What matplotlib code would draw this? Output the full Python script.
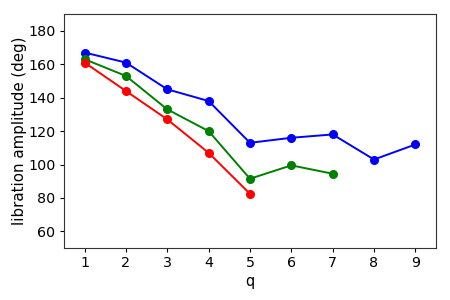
import matplotlib
matplotlib.use("Agg")
import matplotlib.pyplot as plt

q_blue = [1, 2, 3, 4, 5, 6, 7, 8, 9]
amp_blue = [167, 161, 145, 138, 113, 116, 118, 103, 112]
q_green = [1, 2, 3, 4, 5, 6, 7]
amp_green = [163, 153, 133, 120, 91.5, 99.5, 94.5]
q_red = [1, 2, 3, 4, 5]
amp_red = [161, 144, 127, 107, 82.5]

fig, ax = plt.subplots(figsize=(4.5, 3), dpi=100)
ax.plot(q_blue, amp_blue, "o-", color="blue", markersize=5.5, linewidth=1.4)
ax.plot(q_green, amp_green, "o-", color="green", markersize=5.5, linewidth=1.4)
ax.plot(q_red, amp_red, "o-", color="red", markersize=5.5, linewidth=1.4)

ax.set_xlim(0.5, 9.5)
ax.set_ylim(50, 190)
ax.set_xticks(range(1, 10))
ax.set_yticks(range(60, 181, 20))
ax.tick_params(labelsize=10.3, length=3, pad=3)
ax.set_xlabel("q", fontsize=10.5, labelpad=2.5)
ax.set_ylabel("libration amplitude (deg)", fontsize=10.8, labelpad=1)
for spine in ax.spines.values():
    spine.set_color("#333333")

fig.subplots_adjust(left=0.142, right=0.969, top=0.953, bottom=0.173)
fig.savefig("out.png")
